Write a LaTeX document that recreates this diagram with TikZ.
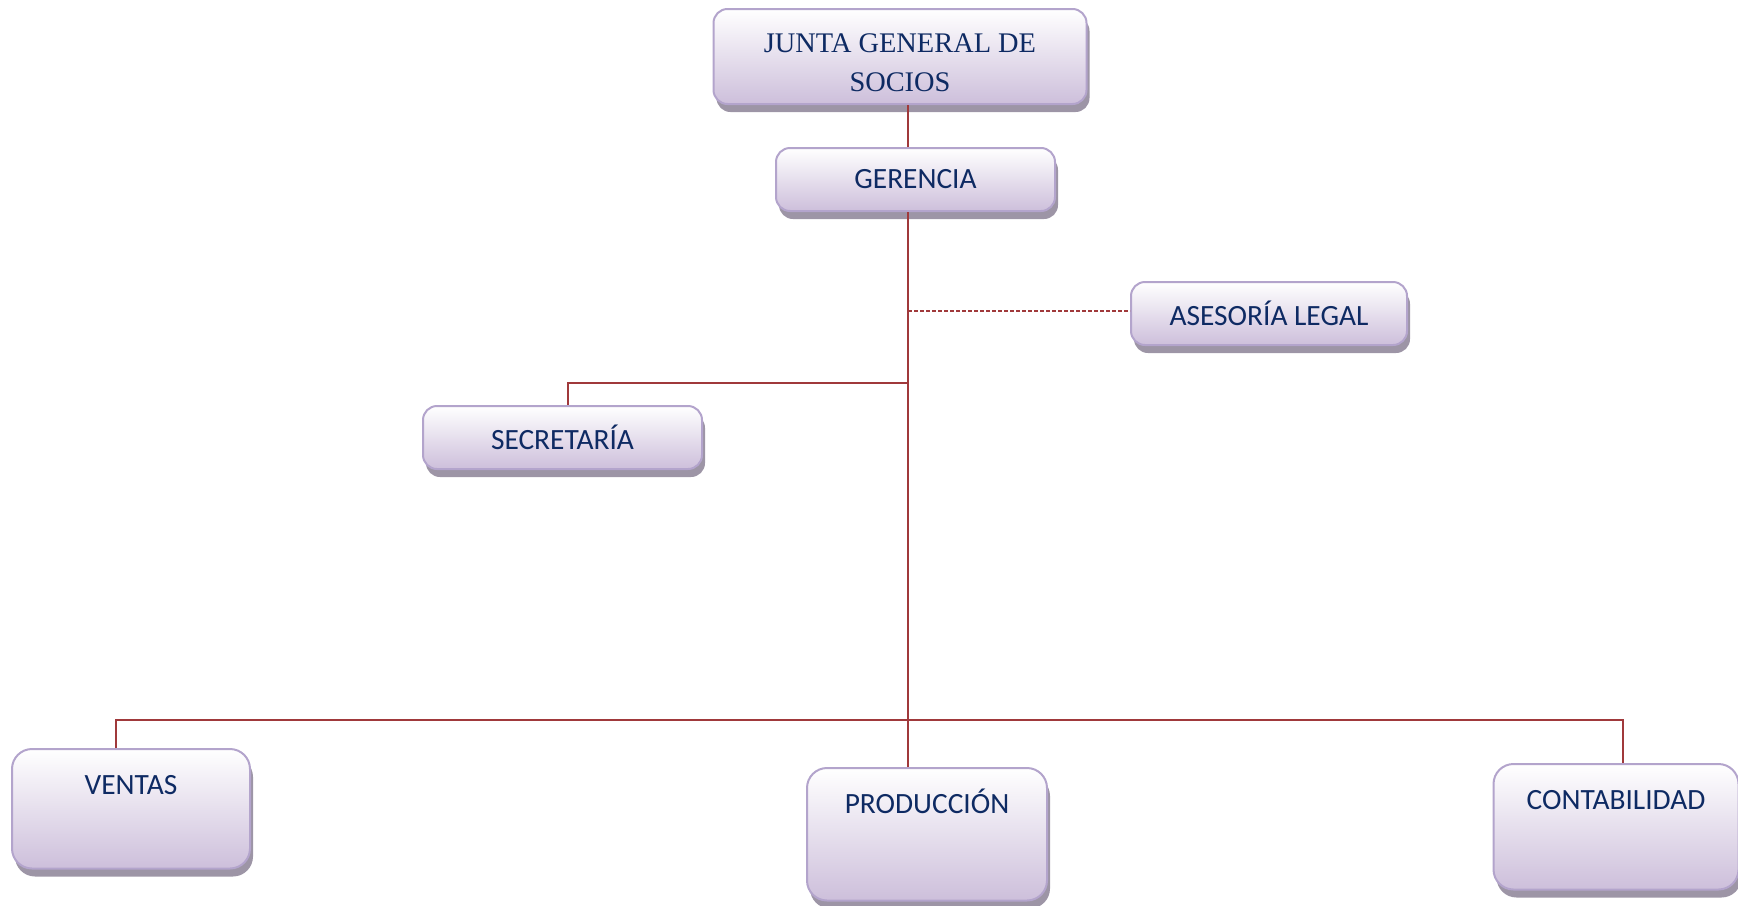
\documentclass[tikz,border=0pt]{standalone}
\usepackage{fontspec}
\usepackage{xcolor}
\usepackage{tikz}
\usetikzlibrary{positioning, shadows}
\newfontfamily\calibrif{Carlito}
\newfontfamily\timesf{Liberation Serif}
\definecolor{boxline}{HTML}{B3A4CC}
\definecolor{boxbot}{HTML}{CDBFDB}
\definecolor{shadowc}{HTML}{9D95A6}
\definecolor{textc}{HTML}{0E2A63}
\definecolor{linkc}{HTML}{A0393B}
\tikzset{
  box/.style={draw=boxline, line width=1pt, rounded corners=7pt,
    top color=white, bottom color=boxbot,
    drop shadow={shadow xshift=1.5pt, shadow yshift=-4pt, fill=shadowc, opacity=1},
    text=textc, font=\calibrif\fontsize{14.7}{17}\selectfont, anchor=north},
  lowbox/.style={box, rounded corners=10pt, inner ysep=0pt, text height=22.5pt, text depth=#1},
  link/.style={draw=linkc, line width=1pt}
}
\begin{document}
\begin{tikzpicture}[x=0.5pt, y=-0.5pt]
\useasboundingbox (0,0) rectangle (1738,905);
\node[box, minimum width=186.5pt, minimum height=47.5pt, align=center,
  font=\timesf\fontsize{14.2}{19.5}\selectfont] (junta) at (900,8) {\rule{0pt}{16pt}JUNTA GENERAL DE\\SOCIOS};
\node[box, minimum width=139.5pt, minimum height=31.5pt] (gerencia) at (915.5,147) {GERENCIA};
\node[box, minimum width=138pt, minimum height=31.5pt] (asesoria) at (1269,281) {ASESORÍA LEGAL};
\node[box, minimum width=139.5pt, minimum height=31.5pt] (secretaria) at (562.5,405) {SECRETARÍA};
\node[lowbox=37.25pt, minimum width=119pt] (ventas) at (131,748) {VENTAS};
\node[lowbox=43.75pt, minimum width=120pt] (produccion) at (927,767) {PRODUCCIÓN};
\node[lowbox=40.25pt, minimum width=122.5pt] (conta) at (1616,763) {CONTABILIDAD};
\coordinate (spine) at (908,0);
\coordinate (legal) at (908,311);
\coordinate (sec) at (908,383);
\coordinate (bus) at (908,720);
\draw[link] (junta.south -| spine) -- (gerencia.north -| spine);
\draw[link] (gerencia.south -| spine) -- (produccion.north -| spine);
\draw[link, dash pattern=on 2pt off 1pt] (legal) -- (asesoria.west |- legal);
\draw[link] (sec) -| ([xshift=2.5pt]secretaria.north);
\draw[link] ([xshift=-7.5pt]ventas.north) |- (bus) -| ([xshift=3.5pt]conta.north);
\end{tikzpicture}
\end{document}
